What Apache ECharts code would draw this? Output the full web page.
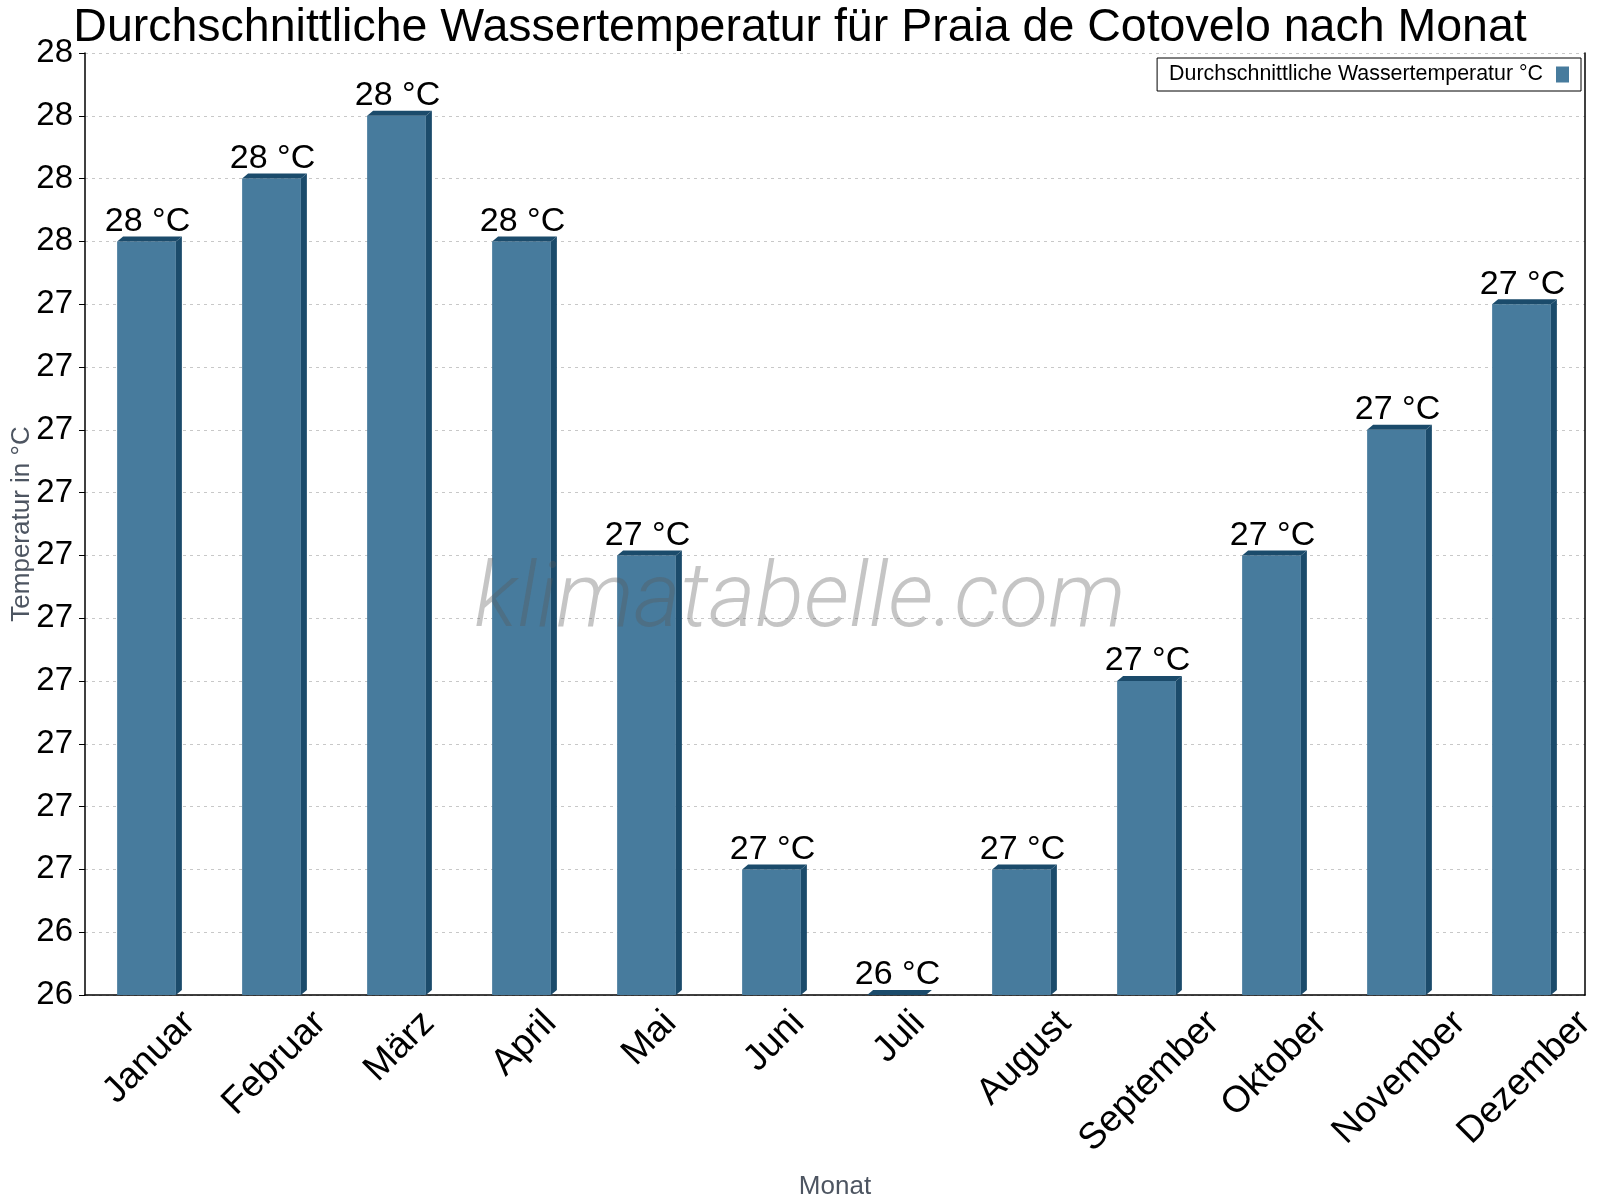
<!DOCTYPE html>
<html>
<head>
<meta charset="utf-8">
<title>Wassertemperatur Praia de Cotovelo</title>
<script src="https://cdn.jsdelivr.net/npm/echarts@6/dist/echarts.min.js"></script>
<style>
  html, body { margin: 0; padding: 0; background: #fff; }
  #chart { width: 1600px; height: 1200px; }
</style>
</head>
<body>
<div id="chart"></div>
<script>
// Daten
var months = ['Januar', 'Februar', 'März', 'April', 'Mai', 'Juni', 'Juli', 'August', 'September', 'Oktober', 'November', 'Dezember'];
var waterTemp = [27.5, 27.6, 27.7, 27.5, 27.0, 26.5, 26.3, 26.5, 26.8, 27.0, 27.2, 27.4];
var yMin = 26.3;
var yMax = 27.8;
var yStep = 0.1;
var seriesName = 'Durchschnittliche Wassertemperatur °C';

var frontColor = '#477b9d';
var darkColor = '#1b4b6b';
var fontName = '"Liberation Sans", Arial, sans-serif';
var xLabelSize = 37;

(function () {
    var myChart = echarts.init(document.getElementById('chart'));

    // Breite der Monatsnamen messen (für die gedrehten Beschriftungen)
    var ctx = document.createElement('canvas').getContext('2d');
    ctx.font = xLabelSize + 'px ' + fontName;
    var monthWidths = months.map(function (m) {
        return ctx.measureText(m).width;
    });

    // 3D-Balken: Vorderseite, Seite rechts und Deckel (+ Beschriftungen)
    function renderBar(params, api) {
        var i = api.value(0);
        var v = api.value(1);
        var top = api.coord([i, v]);
        var base = api.coord([i, yMin]);
        var bw = api.size([1, 0])[0] * 0.47;
        var x0 = top[0] - bw / 2 - 1;
        var x1 = x0 + bw;
        var yt = top[1];
        var yb = base[1];
        var dx = 6, dy = 5;
        // gedrehter Monatsname: Oberkante fest, Mitte unter der Kategorie
        var half = (monthWidths[i] + xLabelSize * 0.8) / (2 * Math.SQRT2);
        return {
            type: 'group',
            children: [
                {
                    type: 'rect',
                    shape: { x: x0, y: yt, width: bw, height: yb - yt },
                    style: { fill: frontColor }
                },
                {
                    type: 'polygon',
                    shape: { points: [[x1, yt], [x1 + dx, yt - dy], [x1 + dx, yb - dy], [x1, yb]] },
                    style: { fill: darkColor }
                },
                {
                    type: 'polygon',
                    shape: { points: [[x0, yt], [x0 + dx, yt - dy], [x1 + dx, yt - dy], [x1, yt]] },
                    style: { fill: darkColor }
                },
                {
                    type: 'text',
                    x: top[0],
                    y: yt - 3,
                    style: {
                        text: Math.round(v) + ' °C',
                        fill: '#000',
                        font: '34px ' + fontName,
                        align: 'center',
                        verticalAlign: 'bottom'
                    }
                },
                {
                    type: 'text',
                    x: base[0] + 2,
                    y: yb + 12 + half,
                    rotation: Math.PI / 4,
                    style: {
                        text: months[i],
                        fill: '#000',
                        font: xLabelSize + 'px ' + fontName,
                        align: 'center',
                        verticalAlign: 'middle'
                    }
                }
            ]
        };
    }

    var option = {
        animation: false,
        title: {
            text: 'Durchschnittliche Wassertemperatur für Praia de Cotovelo nach Monat',
            left: 'center',
            top: 0,
            textStyle: {
                fontFamily: fontName,
                fontSize: 46.5,
                fontWeight: 'normal',
                color: '#000'
            }
        },
        legend: {
            right: 19,
            top: 58,
            align: 'right',
            orient: 'horizontal',
            icon: 'rect',
            itemWidth: 13,
            itemHeight: 16,
            padding: [6, 12, 6, 12],
            borderColor: '#000',
            borderWidth: 1,
            borderRadius: 0,
            textStyle: {
                fontFamily: fontName,
                fontSize: 21.4,
                color: '#000',
                padding: [0, 8, 0, 0]
            },
            data: [seriesName]
        },
        graphic: [
            {
                type: 'text',
                left: 'center',
                top: 558,
                z: 100,
                style: {
                    text: 'klimatabelle.com',
                    font: 'italic 300 90px Roboto, "Open Sans", sans-serif',
                    fill: 'rgba(90,90,90,0.35)'
                }
            }
        ],
        grid: {
            left: 85,
            right: 15,
            top: 53,
            bottom: 205,
            containLabel: false,
            outerBoundsMode: 'none'
        },
        xAxis: {
            type: 'category',
            data: months,
            name: 'Monat',
            nameLocation: 'middle',
            nameGap: 179,
            nameTextStyle: {
                fontFamily: fontName,
                fontSize: 26,
                color: '#4d5561'
            },
            axisLine: { lineStyle: { color: '#000', width: 1.5 } },
            axisTick: { length: 5, lineStyle: { color: '#000' } },
            // Monatsnamen werden in renderBar gezeichnet
            axisLabel: { show: false },
            splitLine: { show: false }
        },
        yAxis: [
            {
                type: 'value',
                min: yMin,
                max: yMax,
                interval: yStep,
                name: 'Temperatur in °C',
                nameLocation: 'middle',
                nameGap: 50,
                nameMoveOverlap: false,
                nameTextStyle: {
                    fontFamily: fontName,
                    fontSize: 26,
                    color: '#4d5561'
                },
                axisLine: { show: true, lineStyle: { color: '#000', width: 1.5 } },
                axisTick: { show: true, length: 6, lineStyle: { color: '#000' } },
                axisLabel: {
                    margin: 12,
                    fontFamily: fontName,
                    fontSize: 33,
                    color: '#000',
                    formatter: function (v) {
                        return Math.round(v);
                    }
                },
                splitLine: {
                    lineStyle: { color: '#c8c8c8', type: [3, 4] }
                }
            },
            {
                // nur die rechte Rahmenlinie
                type: 'value',
                position: 'right',
                min: yMin,
                max: yMax,
                interval: yStep,
                axisLine: { show: true, lineStyle: { color: '#000', width: 1.5 } },
                axisTick: { show: false },
                axisLabel: { show: false },
                splitLine: { show: false }
            }
        ],
        series: [
            {
                name: seriesName,
                type: 'custom',
                renderItem: renderBar,
                itemStyle: { color: frontColor },
                encode: { x: 0, y: 1 },
                clip: false,
                data: waterTemp.map(function (v, i) { return [i, v]; })
            }
        ]
    };

    myChart.setOption(option);
})();
</script>
</body>
</html>
